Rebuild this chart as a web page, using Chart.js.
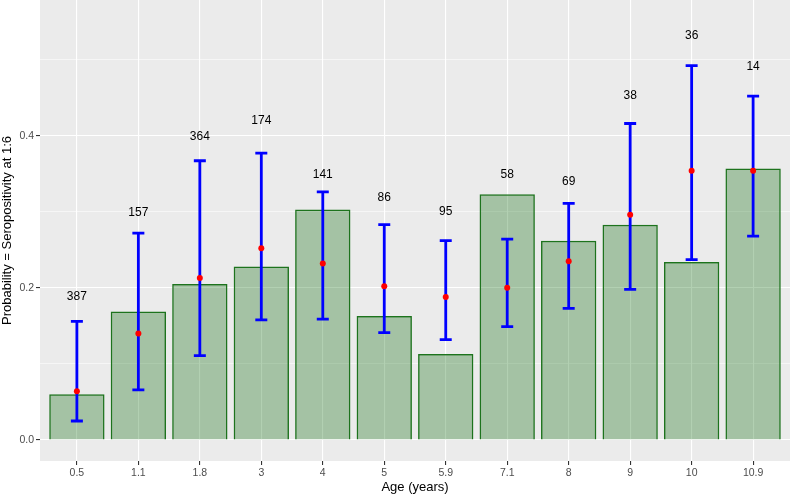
<!DOCTYPE html>
<html>
<head>
<meta charset="utf-8">
<script src="https://cdn.jsdelivr.net/npm/chart.js@4"></script>
<style>
  body { margin: 0; background: #ffffff; }
</style>
</head>
<body>
<canvas id="seroChart" width="791" height="496"></canvas>
<script>
// values
const ages = ["0.5", "1.1", "1.8", "3", "4", "5", "5.9", "7.1", "8", "9", "10", "10.9"];
const barValues = [0.060, 0.169, 0.205, 0.228, 0.303, 0.163, 0.113, 0.323, 0.262, 0.283, 0.234, 0.357];
const estimates = [0.064, 0.140, 0.213, 0.252, 0.232, 0.202, 0.188, 0.200, 0.235, 0.296, 0.354, 0.354];
const lowerCI = [0.025, 0.066, 0.111, 0.158, 0.159, 0.141, 0.132, 0.149, 0.173, 0.198, 0.237, 0.268];
const upperCI = [0.156, 0.272, 0.367, 0.377, 0.326, 0.283, 0.262, 0.264, 0.311, 0.416, 0.492, 0.452];
const counts = [387, 157, 364, 174, 141, 86, 95, 58, 69, 38, 36, 14];
const countY = [0.189, 0.299, 0.399, 0.420, 0.349, 0.319, 0.300, 0.349, 0.339, 0.452, 0.531, 0.490];
const yTicks = [0, 0.1, 0.2, 0.3, 0.4, 0.5];

const FONT = "'Liberation Sans', Arial, Helvetica, sans-serif";

const isMajor = (v) => Math.round(v * 10) % 2 === 0;

// grey ggplot panel
const panelBg = {
  id: "panelBg",
  beforeDraw(chart) {
    const { ctx, chartArea: a } = chart;
    ctx.save();
    ctx.fillStyle = "#EBEBEB";
    ctx.fillRect(a.left, a.top, a.right - a.left, a.bottom - a.top);
    ctx.restore();
  }
};

// error bars, drawn right after the bars so the points sit on top
const errorBars = {
  id: "errorBars",
  afterDatasetDraw(chart, args) {
    if (args.index !== 0) return;
    const { ctx, scales: { x, y } } = chart;
    ctx.save();
    ctx.strokeStyle = "#0000FF";
    ctx.lineWidth = 2.8;
    lowerCI.forEach((lo, i) => {
      const px = x.getPixelForValue(i);
      const top = y.getPixelForValue(upperCI[i]);
      const bot = y.getPixelForValue(lo);
      ctx.beginPath();
      ctx.moveTo(px, top); ctx.lineTo(px, bot);
      ctx.moveTo(px - 6, top); ctx.lineTo(px + 6, top);
      ctx.moveTo(px - 6, bot); ctx.lineTo(px + 6, bot);
      ctx.stroke();
    });
    ctx.restore();
  }
};

// sample size labels
const countLabels = {
  id: "countLabels",
  afterDatasetsDraw(chart) {
    const { ctx, scales: { x, y } } = chart;
    ctx.save();
    ctx.fillStyle = "#000000";
    ctx.font = "12px " + FONT;
    ctx.textAlign = "center";
    ctx.textBaseline = "middle";
    counts.forEach((n, i) => {
      ctx.fillText(String(n), x.getPixelForValue(i), y.getPixelForValue(countY[i]));
    });
    ctx.restore();
  }
};

const ctx = document.getElementById("seroChart").getContext("2d");

new Chart(ctx, {
  type: "bar",
  data: {
    datasets: [
      {
        type: "bar",
        data: barValues.map((v, i) => ({ x: i, y: v })),
        backgroundColor: "rgba(0,100,0,0.3)",
        borderColor: "#1D731D",
        borderWidth: 1.5,
        barPercentage: 0.9,
        categoryPercentage: 1,
        order: 2
      },
      {
        type: "line",
        data: estimates.map((v, i) => ({ x: i, y: v })),
        showLine: false,
        pointRadius: 3,
        pointBackgroundColor: "#FF0000",
        pointBorderWidth: 0,
        order: 1
      }
    ]
  },
  options: {
    responsive: false,
    animation: false,
    layout: { autoPadding: false, padding: { top: 0, right: 1, bottom: 0, left: 0 } },
    plugins: {
      legend: { display: false },
      tooltip: { enabled: false }
    },
    scales: {
      x: {
        type: "linear",
        min: -0.6,
        max: 11.6,
        offset: false,
        afterBuildTicks: (scale) => {
          scale.ticks = ages.map((_, i) => ({ value: i }));
        },
        afterFit: (scale) => {
          scale.height = 35;
          scale.paddingLeft = 0;
          scale.paddingRight = 0;
        },
        ticks: {
          autoSkip: false,
          maxRotation: 0,
          padding: 2,
          color: "#4D4D4D",
          font: { family: FONT, size: 10.5 },
          callback: (v) => ages[v]
        },
        grid: {
          offset: false,
          color: "#FFFFFF",
          lineWidth: 1.1,
          tickLength: 4,
          tickColor: "#333333"
        },
        border: { display: false },
        title: {
          display: true,
          text: "Age (years)",
          color: "#000000",
          font: { family: FONT, size: 13 },
          padding: { top: 0, bottom: 1 }
        }
      },
      y: {
        min: -0.0276,
        max: 0.5783,
        afterBuildTicks: (scale) => {
          scale.ticks = yTicks.map((v) => ({ value: v }));
        },
        afterFit: (scale) => {
          scale.width = 40;
          scale.paddingTop = 0;
          scale.paddingBottom = 0;
        },
        ticks: {
          autoSkip: false,
          padding: 2,
          color: "#4D4D4D",
          font: { family: FONT, size: 10.5 },
          callback: (v) => (isMajor(v) ? v.toFixed(1) : "")
        },
        grid: {
          color: "#FFFFFF",
          lineWidth: (c) => (c.tick && isMajor(c.tick.value) ? 1.1 : 0.55),
          tickLength: 4,
          tickColor: (c) => (c.tick && isMajor(c.tick.value) ? "#333333" : "rgba(0,0,0,0)")
        },
        border: { display: false },
        title: {
          display: true,
          text: "Probability = Seropositivity at 1:6",
          color: "#000000",
          font: { family: FONT, size: 13 },
          padding: { top: 0, bottom: 0 }
        }
      }
    }
  },
  plugins: [panelBg, errorBars, countLabels]
});
</script>
</body>
</html>
